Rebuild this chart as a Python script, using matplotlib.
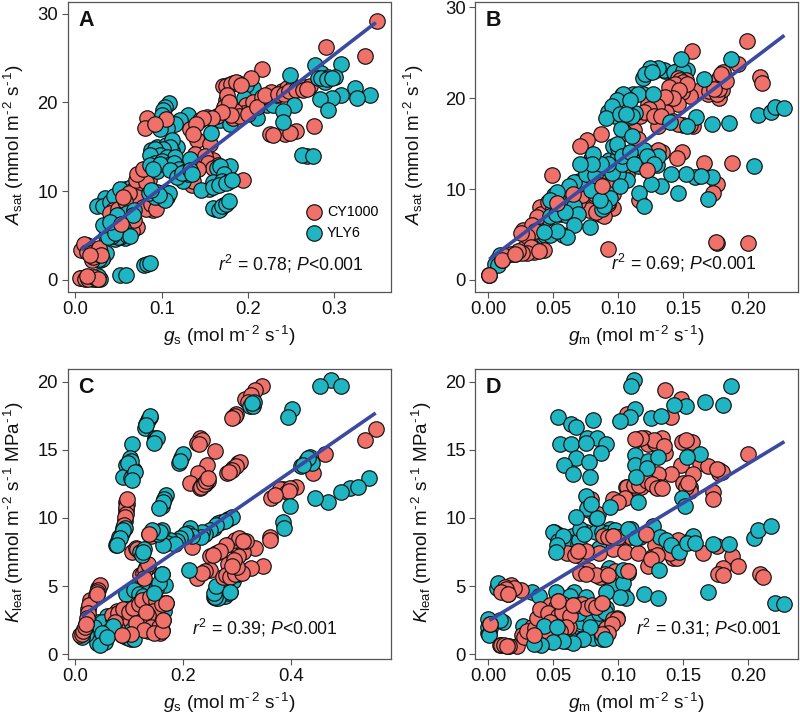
import numpy as np
import matplotlib
matplotlib.use("Agg")
import matplotlib.pyplot as plt

plt.rcParams['font.family'] = ['Liberation Sans', 'DejaVu Sans']
plt.rcParams['mathtext.fontset'] = 'custom'
plt.rcParams['mathtext.rm'] = 'Liberation Sans'
plt.rcParams['mathtext.it'] = 'Liberation Sans:italic'
plt.rcParams['mathtext.bf'] = 'Liberation Sans:bold'
plt.rcParams['mathtext.default'] = 'regular'

RED = '#F0706A'
TEAL = '#20B5C2'
LINE = '#3A4AA0'
FRAME = '#555555'
SERIES_NAMES = ['CY1000', 'YLY6']

# ---------- Panel A (gs, Asat) ----------
A_YLY_BACK = [(.206,21.6),(.198,22.0),(.195,20.5),(.222,19.7),(.229,19.7),(.210,18.2),(.168,18.0),(.179,17.6),
 (.131,18.6),(.121,18.0),(.115,17.6),(.108,19.9),(.104,19.5),(.102,19.2),(.100,18.6),(.106,17.1),(.098,17.0),(.032,2.6),(.029,2.2),(.036,3.0),
 (.025,.1),(.007,.2),(.016,.3),(.034,9.2),(.025,8.3),(.032,8.3),(.058,10.3),(.048,9.6),(.036,4.9),(.046,4.6),(.058,4.7),(.065,5.4),(.052,4.8),
 (.028,3.0),(.031,2.4),(.028,2.4),(.024,.1),(.020,.1),(.029,.1),(.026,.4),(.040,8.8),(.045,9.5),(.060,10.0),(.065,10.5),(.052,10.3)]
A_CY = [(.349,29.2),(.290,26.2),(.336,25.2),(.216,23.8),(.203,22.8),(.188,22.2),(.183,22.2),(.177,22.0),(.171,21.8),
 (.175,20.3),(.177,19.9),(.172,19.5),(.176,19.2),(.198,19.7),(.206,20.1),(.216,20.6),(.227,21.2),(.233,20.8),(.239,21.3),(.245,21.6),
 (.252,21.8),(.260,21.6),(.266,21.7),(.272,21.9),(.195,18.8),(.183,18.2),(.164,18.5),(.144,18.0),(.152,18.4),(.105,18.1),(.083,18.2),
 (.081,17.1),(.092,17.6),(.276,17.3),(.256,16.8),(.243,16.5),(.249,16.6),(.225,16.5),(.229,16.3),(.133,17.0),(.141,15.8),(.156,15.3),
 (.144,13.9),(.146,13.3),(.160,13.5),(.135,10.7),(.194,11.3),(.158,12.8),(.075,11.5),(.083,12.0),(.085,11.3),(.067,10.1),(.075,10.1),
 (.059,9.4),(.067,9.4),(.079,9.0),(.085,8.4),(.090,7.9),(.056,8.6),(.044,7.9),(.063,7.5),(.056,6.0),(.071,6.0),(.048,7.1),(.040,7.5),
 (.013,3.9),(.017,3.6),(.023,3.0),(.019,2.3),(.029,3.2),(.007,3.4),(.012,.3),(.020,.2),(.009,.2),
 (.010,4.0),(.014,3.2),(.018,3.0),(.021,2.6),(.026,2.9),(.027,3.6),(.030,2.8),(.005,.2),(.011,.1),(.015,.1),(.022,.3),(.026,.1),
 (.050,8.0),(.055,7.6),(.060,7.0),(.065,8.5),(.070,9.8),(.072,9.3),(.078,8.2),(.082,8.0),(.088,8.6),(.093,8.0),(.062,9.8),(.058,8.9),
 (.055,9.3),(.070,11.3),(.079,11.8),(.082,11.0),(.072,11.9),(.078,12.5),(.050,6.5),(.060,6.0),(.066,5.5),(.055,5.2),(.068,6.8),
 (.185,19.0),(.190,18.5),(.200,18.7),(.210,19.5),(.220,20.8),(.235,21.0),(.242,21.0),(.248,21.3),(.255,21.4),(.264,21.4),(.268,21.5),
 (.174,21.9),(.180,22.1),(.186,22.3),(.192,22.0),(.176,20.8),(.178,20.0),(.180,18.6),(.170,18.9),(.158,18.2),(.148,18.2),(.140,17.6),
 (.136,16.5),(.139,14.2),(.150,14.0),(.154,13.2),(.165,13.0),(.168,12.5),(.160,12.6),(.142,12.5),(.131,11.5),(.136,11.2)]
A_YLY_FRONT = [(.308,24.3),(.278,24.2),(.249,23.1),(.285,23.3),(.293,22.9),(.301,22.9),(.281,22.7),(.289,22.3),
 (.285,22.7),(.291,22.6),(.297,22.7),
 (.324,21.6),(.341,20.8),(.308,20.8),(.326,20.5),(.297,20.5),(.283,20.4),(.293,19.2),(.253,19.7),(.241,19.0),(.241,17.8),(.157,16.6),
 (.118,15.0),(.112,14.5),(.095,15.0),(.105,15.2),(.088,14.6),
 (.112,15.8),(.110,15.0),(.102,14.7),(.092,14.7),(.098,14.1),(.087,14.1),(.106,13.9),(.115,13.9),(.092,13.2),(.100,13.4),(.107,12.9),(.114,13.2),
 (.120,12.5),(.127,11.7),(.128,12.3),(.125,11.2),(.130,11.9),(.086,12.9),(.095,12.3),
 (.098,13.1),(.090,12.5),(.110,12.4),
 (.118,11.6),(.124,12.0),(.133,13.6),(.133,12.4),(.135,11.9),(.164,12.6),(.179,12.8),(.168,12.8),(.172,11.9),
 (.155,10.3),(.160,11.0),(.170,11.2),(.177,11.0),
 (.146,10.1),(.160,10.5),(.166,10.7),(.175,10.9),(.181,11.3),(.162,8.0),(.168,8.0),(.172,8.4),(.160,8.1),(.166,7.9),(.170,8.3),(.175,8.6),(.178,8.9),
 (.268,14.0),(.263,14.1),(.275,14.0),(.095,9.9),(.100,9.2),(.106,9.4),(.104,9.9),(.092,9.4),(.085,9.8),
 (.108,9.8),(.104,9.0),(.097,9.6),(.088,10.1),
 (.055,5.8),(.050,4.8),(.060,5.1),(.063,4.9),(.042,5.0),(.038,4.8),(.045,6.5),(.052,7.0),(.060,7.6),(.068,7.9),
 (.048,7.3),(.067,7.3),(.032,6.2),(.046,5.3),(.040,6.5),
 (.052,.6),(.059,.6),(.079,1.7),(.083,1.8),(.086,1.9)]
A_CY_FRONT = [(.013,.4),(.017,2.8),(.053,6.3)]

# ---------- Panel B (gm, Asat) ----------
B_YLY_BACK = [(.0067,2.2),(.0095,2.8),(.001,.5),(.080,13.5),(.070,10.9),(.075,11.5),(.085,10.3),(.090,11.2),(.060,9.5),
 (.153,23.1),(.145,23.0),(.136,23.0),(.1115,20.5),(.119,20.5),(.058,5.0),(.042,4.8),(.045,6.8),(.005,1.8),(.008,1.7),
 (.135,23.1),(.128,23.0),(.143,22.9),(.150,23.0),(.119,22.2),(.044,5.0),(.048,4.9)]
B_CY = [(.1995,26.3),(.157,25.2),(.1925,23.8),(.209,22.3),(.211,21.7),(.1805,22.9),(.178,22.2),(.181,22.0),(.178,20.0),(.180,20.9),
 (.169,20.5),(.163,20.9),(.155,20.2),(.152,22.0),(.146,22.2),(.141,21.3),(.149,20.7),(.143,21.1),(.139,19.8),(.146,19.3),(.137,18.5),
 (.126,18.2),(.131,16.9),(.117,18.0),(.123,19.4),(.150,17.0),(.158,16.9),(.087,16.0),(.0765,15.4),(.071,14.7),(.112,16.5),(.1495,14.1),
 (.145,13.4),(.166,12.9),(.1875,12.9),(.134,14.1),(.114,13.9),(.122,12.1),(.107,11.7),(.096,11.9),(.098,11.0),(.089,10.3),(.096,9.5),
 (.176,10.6),(.173,9.6),(.116,8.8),(.0495,11.5),(.067,10.1),(.064,9.6),(.053,8.5),(.055,9.2),(.045,8.3),(.043,7.7),(.048,8.0),(.076,8.8),
 (.081,8.6),(.073,8.1),(.086,7.3),(.096,7.9),(.089,7.0),(.036,6.2),(.027,5.5),(.032,5.1),(.043,3.3),(.035,3.1),(.028,3.5),(.021,2.9),
 (.0105,2.2),(.001,.55),(.0925,3.4),(.176,4.1),(.175,4.2),(.200,4.1),
 (.148,22.0),(.150,21.8),(.144,21.6),(.139,21.2),(.153,21.5),(.147,20.9),(.142,20.0),(.136,20.1),(.130,19.1),(.124,18.8),(.120,18.5),
 (.128,18.0),(.133,18.0),(.142,17.5),(.146,17.2),(.155,17.0),(.170,20.8),(.176,20.4),(.178,21.0),(.183,21.9),(.179,22.6),(.174,21.0),
 (.115,15.5),(.105,16.2),(.127,14.0),(.131,14.3),(.118,14.2),(.110,13.0),(.115,12.6),(.103,12.0),(.100,11.8),(.090,11.2),(.085,11.0),
 (.092,10.4),(.079,10.0),(.085,9.5),(.092,8.4),(.078,7.7),(.069,8.6),(.060,8.3),(.062,9.8),(.068,9.0),(.072,9.3),(.040,8.0),(.041,7.2),
 (.038,6.9),(.034,6.0),(.036,5.4),(.030,4.8),(.033,3.6),(.030,3.0),(.026,3.0),(.023,3.2),(.039,3.2),(.018,2.9),(.013,2.6),(.025,5.2),
 (.046,8.6),(.058,9.0),(.050,7.9),(.083,7.5),(.090,8.9),(.082,9.5)]
B_YLY_FRONT = [(.187,24.3),(.1485,24.3),(.131,23.3),(.1245,23.3),(.121,22.6),(.126,22.9),(.166,22.1),
 (.115,20.5),(.103,20.3),(.107,20.0),(.098,18.0),(.103,18.1),(.109,17.9),(.113,18.4),(.092,18.5),
 (.104,20.4),(.099,19.8),(.109,19.8),(.127,20.4),(.095,19.1),(.091,17.8),(.1015,18.3),(.1105,18.0),(.106,18.2),(.102,16.6),(.111,15.8),
 (.140,17.4),(.160,17.9),(.153,16.9),(.172,17.2),(.1855,17.3),(.208,18.1),(.218,18.5),(.221,19.0),(.228,18.9),(.205,12.5),(.1725,11.3),
 (.159,11.3),(.164,11.4),(.152,11.6),(.141,11.6),(.169,8.9),(.146,9.6),(.133,10.3),(.125,10.5),(.130,12.6),(.131,13.6),(.120,14.3),
 (.116,9.6),(.120,8.1),(.093,13.2),(.090,12.4),(.079,13.3),(.083,12.5),(.074,12.6),(.077,12.2),(.100,13.7),(.096,14.7),(.104,14.0),
 (.108,13.5),(.115,12.5),(.122,13.6),(.128,12.8),(.107,11.0),(.100,11.6),(.095,11.8),(.070,10.5),(.066,10.8),(.062,10.3),(.075,11.6),
 (.082,11.5),(.085,10.4),(.090,9.7),(.092,8.6),(.088,7.8),(.093,9.4),(.079,9.9),
 (.1015,10.3),(.103,12.8),(.0925,12.7),(.087,12.8),(.081,13.9),(.080,12.8),(.071,12.8),(.100,14.5),(.099,15.0),
 (.103,13.6),(.109,14.1),(.112,12.8),(.094,9.0),(.089,8.1),(.086,8.8),(.051,9.3),(.056,8.5),(.055,7.3),(.048,7.0),(.060,7.1),(.065,7.4),
 (.068,7.5),(.063,8.4),(.053,9.7),(.048,8.8),(.052,7.3),(.066,8.1),(.069,7.3),(.059,7.5),
 (.066,6.0),(.0785,5.8),(.0605,4.7),(.053,5.4),(.043,5.3)]
B_CY_FRONT = [(.053,8.5),(.065,9.5),(.088,10.3),(.122,12.1),(.0105,2.2),(.021,2.9),(.001,.55)]

# ---------- Panel C (gs, Kleaf) ----------
C_YLY_BACK = [(.287,4.6),(.274,4.3),(.262,4.1),(.268,4.9),(.257,4.2),(.292,5.4),(.302,5.9),(.161,5.9),(.166,5.1),(.146,4.5),(.129,4.8),
 (.094,4.4),(.108,4.7),(.104,1.15),(.120,2.25),(.151,1.76),(.142,2.9),(.043,2.4),(.058,2.8),(.012,1.4),(.015,1.6),(.105,2.7),(.125,3.0),
 (.167,3.8),(.155,3.0),(.268,4.3),(.272,4.3),(.278,4.3),(.283,4.5),(.264,4.1),(.260,4.2),(.258,4.5),(.262,5.0),
 (.050,2.4),(.045,1.0),(.050,.9),(.055,.9),(.060,1.5),(.052,1.3),(.040,.8),(.035,2.0),(.020,1.5),(.018,1.9),(.013,1.3),(.065,1.8),(.073,1.9),
 (.095,1.3),(.100,1.2),(.108,1.1),(.110,3.0),(.130,3.9),(.140,4.3),(.150,4.8),(.155,5.2),(.118,4.4),(.125,4.3),(.100,2.3),(.115,2.4),(.135,1.7),
 (.160,1.8),(.165,3.2)]
C_CY = [(.346,19.7),(.333,19.4),(.315,18.75),(.299,17.6),(.293,17.4),(.231,15.9),(.225,15.5),(.259,14.9),(.244,13.9),(.228,13.3),
 (.213,12.6),(.247,12.7),(.240,12.5),(.231,12.2),(.236,12.4),(.302,14.0),(.293,13.7),(.281,13.3),(.559,16.5),(.537,15.7),(.463,14.7),
 (.441,13.3),(.409,12.3),(.386,12.1),(.364,11.5),(.361,8.6),(.361,8.4),(.349,6.5),(.327,6.3),(.333,7.8),(.312,7.5),(.302,7.2),(.309,8.4),
 (.299,8.3),(.287,8.1),(.284,6.6),(.262,7.4),(.250,7.2),(.250,6.2),(.225,5.6),(.216,7.9),(.305,6.0),(.293,5.9),(.274,5.7),(.095,11.2),
 (.095,10.6),(.092,9.8),(.089,9.3),(.108,7.6),(.137,8.8),(.132,6.4),(.120,5.8),(.043,4.9),(.040,4.45),(.024,3.3),(.027,4.0),(.020,2.2),
 (.009,1.4),(.169,3.8),(.132,3.1),(.163,2.5),(.148,2.4),(.157,1.6),(.123,2.0),(.086,1.4),(.095,3.35),(.114,3.7),(.077,3.2),(.070,2.6),
 (.129,4.0),(.151,3.5),(.068,2.9),(.085,2.6),
 (.096,11.0),(.095,10.8),(.094,10.3),(.093,10.1),(.090,9.5),(.0955,11.4),(.045,5.1),(.042,4.7),(.041,4.6),(.038,4.3),(.025,3.6),(.023,3.0),
 (.022,2.7),(.012,1.5),(.015,1.7),(.018,2.0),(.235,15.7),(.229,15.4),(.233,12.3),(.238,12.5),(.243,12.7),(.246,12.9),(.305,14.1),(.298,13.8),
 (.290,13.5),(.286,13.4),(.327,19.0),(.320,18.5),(.297,17.5),(.290,17.3),(.105,7.5),(.112,7.8),(.115,7.7),(.135,6.4),(.125,6.0),(.130,6.2),
 (.127,5.6),(.135,6.6),(.140,8.7),(.143,8.9),(.296,8.4),(.303,8.5),(.316,8.3),(.312,8.3),(.280,8.0),(.268,7.6),(.255,7.3),(.240,6.1),(.235,6.0),
 (.280,5.8),(.287,5.7),(.297,5.9),(.310,6.0),(.300,6.4),(.295,6.9),(.290,6.5),(.380,12.1),(.392,11.9),(.398,12.2),(.396,12.0),(.370,11.7),
 (.080,3.0),(.088,3.3),(.100,3.1),(.107,3.4),(.118,3.7),(.123,4.0),(.138,4.2),(.150,3.9),(.145,3.2),(.135,2.9),(.125,2.5),(.113,2.3),(.140,2.0),
 (.128,1.8),(.155,2.0),(.146,1.6),(.160,1.7),(.077,1.9),(.070,1.7),(.073,2.4),(.160,3.7),(.103,1.5)]
C_YLY_FRONT = [(.474,20.1),(.454,19.7),(.494,19.7),(.325,18.2),(.330,18.2),(.332,18.5),(.328,18.4),(.402,18.0),(.394,17.4),
 (.138,17.4),(.135,17.2),(.132,16.9),(.130,16.6),(.138,17.5),(.132,16.8),(.148,15.9),(.148,15.7),(.151,15.9),(.146,15.5),
 (.106,15.4),(.101,14.4),(.095,13.9),(.089,13.0),(.109,13.5),(.107,13.2),(.104,12.9),(.103,14.2),(.098,14.0),(.111,13.4),(.106,12.8),
 (.197,14.4),(.192,14.0),(.200,14.7),(.194,14.2),(.169,11.7),(.165,11.4),(.160,10.9),(.163,11.2),(.156,10.7),
 (.428,14.2),(.436,14.5),(.440,14.0),(.418,13.8),(.432,14.4),(.423,13.9),(.546,12.9),(.510,12.2),(.525,12.3),(.494,11.9),(.469,11.2),(.444,11.5),
 (.398,10.9),(.386,9.7),(.387,9.3),(.283,9.9),(.270,9.7),(.265,9.6),(.258,9.3),(.290,10.1),
 (.277,9.8),(.262,9.5),(.250,9.1),(.240,8.8),(.235,9.0),(.234,8.6),(.213,9.3),(.210,8.9),(.216,8.7),(.205,8.7),(.198,8.6),(.203,8.8),(.194,8.5),
 (.188,8.3),(.175,8.4),(.170,8.2),(.185,8.1),(.163,8.0),(.145,9.0),(.153,8.8),(.160,9.1),(.157,9.0),(.142,9.1),(.075,8.0),(.078,8.2),(.080,8.3),
 (.082,8.6),(.086,8.9),(.092,9.3),(.089,9.1),(.083,8.5),(.077,8.0),(.120,7.5),(.128,7.7),(.123,7.3),(.126,7.5),(.211,6.2),
 (.070,2.1),(.049,1.6),(.046,.66),(.058,1.3),(.161,5.9),(.146,4.5),(.287,4.6)]
C_CY_FRONT = [(.137,8.8),(.040,4.45),(.020,2.2),(.086,1.4),(.163,2.5),(.169,3.8),(.132,3.1)]

# ---------- Panel D (gm, Kleaf) ----------
D_YLY_BACK = [(.0003,2.6),(.0118,2.4),(.0003,1.6),(.0015,1.9),(.0067,4.9),(.008,5.2),(.034,4.6),(.039,4.25),(.053,4.45),(.066,4.6),
 (.029,1.6),(.0272,2.1),(.0685,2.5),(.085,2.6),(.086,1.3),(.0955,2.3),(.075,4.2),(.091,3.4),(.051,9.0),(.053,8.85),(.0645,8.7),(.094,9.2),
 (.085,7.8),(.0925,6.2),(.061,8.3),(.069,8.1),(.110,12.3),(.106,12.3),
 (.052,8.8),(.050,9.0),(.054,8.3),(.058,8.7),(.070,8.4),(.075,9.0),(.083,9.0),(.088,9.0),(.092,8.9),(.098,9.1),(.071,9.2),(.110,9.2),(.117,8.6),
 (.108,6.0),(.100,5.9),(.103,4.6),(.095,5.0),(.093,6.3),(.0003,2.0),(.0005,1.5),(.0008,1.4),(.009,2.5),(.040,2.0),(.060,1.0),(.068,1.2),(.072,1.1),
 (.062,1.2),(.055,1.3),(.060,2.4),(.072,2.4),(.078,2.8),(.085,3.0),(.090,3.1),(.070,3.0),(.037,.9),(.047,1.0),(.081,1.2),(.087,1.6),(.088,1.1),
 (.052,4.6),(.063,4.3),(.148,8.0),(.145,7.9),(.155,8.4),(.158,8.7)]
D_CY = [(.1365,19.4),(.1485,18.7),(.141,17.4),(.107,17.65),(.1155,15.8),(.121,15.9),(.123,15.4),(.1285,15.5),(.1335,15.9),(.136,14.8),
 (.1495,15.6),(.157,15.6),(.200,14.7),(.1485,13.9),(.163,14.0),(.1695,13.8),(.178,13.5),(.1775,13.3),(.1575,13.25),(.1405,13.25),
 (.131,13.25),(.1235,12.6),(.150,12.6),(.1555,12.3),(.1555,12.0),(.173,11.9),(.173,11.4),(.132,12.3),(.129,12.3),(.118,12.3),(.112,12.3),
 (.107,12.3),(.1055,11.5),(.0965,11.4),(.0845,10.3),(.0887,8.7),(.0964,8.7),(.104,8.7),(.1215,8.85),(.0964,7.75),(.1054,7.5),(.1156,7.45),
 (.0695,7.55),(.077,7.4),(.0605,7.45),(.071,7.2),(.1285,8.0),(.126,7.15),(.123,6.5),(.1425,7.1),(.145,7.05),(.1465,8.4),(.1655,7.4),(.176,7.95),
 (.1875,7.2),(.1925,6.5),(.181,6.3),(.177,5.9),(.1805,5.8),(.209,5.9),(.2115,5.7),(.108,6.1),(.0925,5.8),(.086,5.7),(.077,6.2),(.071,6.0),
 (.018,5.05),(.013,4.95),(.015,4.45),(.025,4.7),(.0015,2.2),(.0092,.66),(.0144,.6),(.022,.6),(.026,1.4),(.035,1.4),(.0335,2.0),(.040,2.5),
 (.045,3.35),(.050,3.2),(.054,3.9),(.0605,3.0),(.0655,3.65),(.076,3.5),(.088,3.75),(.099,2.7),(.062,2.0),(.091,1.9),(.048,3.6),(.058,3.7),
 (.033,1.3),(.028,1.3),(.030,1.7),(.036,1.9),(.038,2.7),(.040,3.3),(.052,3.5),(.046,3.0),(.054,2.8),(.057,3.1),(.063,2.8),(.069,3.6),(.072,3.7),
 (.075,3.4),(.080,3.6),(.083,3.5),(.096,2.6),(.099,2.6),(.095,2.2),(.092,1.6),(.088,1.5),(.060,2.0),(.055,1.7),(.045,1.7),(.048,2.4),(.010,.65),
 (.012,.7),(.016,.6),(.020,4.9),(.014,4.8),(.010,4.6),(.112,12.4),(.116,12.4),(.122,12.7),(.126,12.5),(.130,12.2),(.134,12.2),(.152,12.3),(.154,12.6),
 (.079,11.4),(.083,10.0),(.078,10.6),(.085,7.4),(.067,7.3),(.075,7.6),(.110,8.6),(.100,8.6),(.092,8.6),(.140,7.4),(.130,7.3),(.125,7.0),(.180,13.4),
 (.176,13.6),(.128,15.7),(.118,15.9),(.113,15.8),(.135,15.3),(.152,15.7),(.100,11.2),(.098,6.1),(.090,5.9),(.083,5.8),(.075,5.9)]
D_YLY_FRONT = [(.112,20.1),(.110,19.7),(.187,19.7),(.167,18.5),(.181,18.3),(.152,18.2),(.143,18.3),(.113,18.0),(.109,17.4),(.1015,17.1),
 (.125,17.3),(.133,17.5),(.054,17.4),(.064,16.9),(.068,16.7),(.0805,17.2),(.055,15.4),(.064,15.4),(.076,15.9),(.0835,15.9),(.075,15.5),
 (.091,15.4),(.087,14.8),(.068,14.4),(.0775,14.1),(.0585,13.9),(.0655,13.2),(.0785,13.0),(.113,14.6),(.113,13.9),(.123,14.2),(.1225,13.7),
 (.131,14.5),(.163,14.7),(.153,14.5),(.114,13.0),(.1155,11.2),(.149,11.5),(.1515,10.9),(.094,10.8),(.0755,11.6),(.076,10.7),(.0675,10.1),
 (.0835,10.0),(.0795,11.0),(.0735,8.8),(.108,9.2),(.127,9.4),(.114,8.5),(.132,8.6),(.137,8.4),(.1405,8.0),(.147,7.5),(.153,8.2),(.159,8.2),
 (.173,8.1),(.1855,8.1),(.205,8.5),(.208,9.1),(.2175,9.4),(.053,8.0),(.052,7.5),(.1315,6.2),(.1695,4.6),(.2205,3.8),(.2275,3.7),(.120,4.4),
 (.1305,4.1),(.104,5.2),(.1065,4.1),(.1015,4.2),(.091,4.6),(.104,6.2),(.043,2.1),(.053,2.0),(.0785,2.0),(.090,1.1),(.0733,1.15),(.0655,.85),
 (.058,1.0),(.050,.9),(.041,.66),(.035,.78)]
D_CY_FRONT = [(.015,4.45),(.0015,2.2),(.0144,.6),(.035,1.4),(.054,3.9),(.0655,3.65),(.088,3.75),(.0964,8.7),(.1215,8.85),(.0925,5.8),(.108,6.1),(.0695,7.55)]

# ---------- Fit lines: x ends, y ends ----------
FIT_A = ([.0066,.348],[3.4,29.0])
FIT_B = ([.001,.228],[2.27,26.9])
FIT_C = ([.0117,.5575],[2.79,17.7])
FIT_D = ([.001,.228],[2.49,15.6])

GS_TICKS_A = [0.0,0.1,0.2,0.3]
GS_TICKS_C = [0.0,0.2,0.4]
GM_TICKS = [0.0,0.05,0.10,0.15,0.20]
ASAT_TICKS = [0,10,20,30]
KLEAF_TICKS = [0,5,10,15,20]

W, H = 800, 714
fig = plt.figure(figsize=(W/100, H/100), dpi=100)

H1 = '\u2010'
XL_S = f'$\\mathit{{g}}_{{s}}$ (mol m$^{{{H1}\\,2}}$ s$^{{{H1}\\,1}}$)'
XL_M = f'$\\mathit{{g}}_{{m}}$ (mol m$^{{{H1}\\,2}}$ s$^{{{H1}\\,1}}$)'
YL_A = f'$\\mathit{{A}}_{{sat}}$ (mmol m$^{{{H1}\\,2}}$ s$^{{{H1}\\,1}}$)'
YL_K = f'$\\mathit{{K}}_{{leaf}}$ (mmol m$^{{{H1}\\,2}}$ s$^{{{H1}\\,1}}$ MPa$^{{{H1}\\,1}}$)'

panels = [
 dict(box=(67.5,1.7,390.5,291.7), xlim=(-.009,.365), ylim=(-1.32,31.35), letter='A',
      layers=(A_YLY_BACK,A_CY,A_YLY_FRONT,A_CY_FRONT), fit=FIT_A, xt=GS_TICKS_A, xtl=['0.0','0.1','0.2','0.3'],
      yt=ASAT_TICKS, xl=XL_S, yl=YL_A, ylx=14, stat=('0.78',.1656,1.1)),
 dict(box=(475.3,1.7,798.3,291.7), xlim=(-.0098,.2387), ylim=(-1.29,30.6), letter='B',
      layers=(B_YLY_BACK,B_CY,B_YLY_FRONT,B_CY_FRONT), fit=FIT_B, xt=GM_TICKS, xtl=['0.00','0.05','0.10','0.15','0.20'],
      yt=ASAT_TICKS, xl=XL_M, yl=YL_A, ylx=414, stat=('0.69',.0944,1.17)),
 dict(box=(67.5,368.7,390.5,658.7), xlim=(-.0145,.585), ylim=(-.32,20.95), letter='C',
      layers=(C_YLY_BACK,C_CY,C_YLY_FRONT,C_CY_FRONT), fit=FIT_C, xt=GS_TICKS_C, xtl=['0.0','0.2','0.4'],
      yt=KLEAF_TICKS, xl=XL_S, yl=YL_K, ylx=14, stat=('0.39',.216,1.47)),
 dict(box=(475.3,368.7,798.3,658.7), xlim=(-.0098,.2387), ylim=(-.32,20.95), letter='D',
      layers=(D_YLY_BACK,D_CY,D_YLY_FRONT,D_CY_FRONT), fit=FIT_D, xt=GM_TICKS, xtl=['0.00','0.05','0.10','0.15','0.20'],
      yt=KLEAF_TICKS, xl=XL_M, yl=YL_K, ylx=422, stat=('0.31',.114,1.47)),
]

MS = 124
for p in panels:
    l,t,r,b = p['box']
    ax = fig.add_axes([l/W, 1-b/H, (r-l)/W, (b-t)/H])
    ax.set_xlim(*p['xlim']); ax.set_ylim(*p['ylim'])
    for pts,c in zip(p['layers'],[TEAL,RED,TEAL,RED]):
        a = np.array(pts)
        ax.scatter(a[:,0],a[:,1],s=MS,c=c,edgecolors='#111111',linewidths=0.85,zorder=2,clip_on=False)
    ax.plot(p['fit'][0],p['fit'][1],color=LINE,lw=2.6,zorder=3,solid_capstyle='butt')
    ax.set_xticks(p['xt']); ax.set_xticklabels(p['xtl'])
    ax.set_yticks(p['yt'])
    ax.tick_params(labelsize=13.3,length=4.3,width=0.8,color=FRAME,pad=2.5,labelcolor='#111111')
    for s in ax.spines.values():
        s.set_color(FRAME); s.set_linewidth(0.9)
    ax.text(10.5/(r-l),1-(24.5/(b-t)),p['letter'],transform=ax.transAxes,fontsize=15.5,fontweight='bold',va='baseline',color='#111111',zorder=5)
    fig.text((l+r)/2/W,1-(b+50)/H,p['xl'],ha='center',va='baseline',fontsize=13.8,color='#111111')
    fig.text(p['ylx']/W,1-((t+b)/2-2)/H,p['yl'],ha='center',va='center',rotation=90,fontsize=13.6,color='#111111')
    v,x0,y0 = p['stat']
    ax.text(x0,y0,f'$\\mathit{{r}}^{{2}}$ = {v}; $\\mathit{{P}}$<0.001',fontsize=12.7,va='baseline',zorder=5,color='#111111')
    if p['letter']=='A':
        hs=[ax.scatter([],[],s=MS,c=c,edgecolors='#111111',linewidths=0.85) for c in (RED,TEAL)]
        ax.legend(hs,SERIES_NAMES,frameon=False,loc='center left',bbox_to_anchor=(235/323,1-(222.5-1.7)/290),
                  fontsize=10.3,labelspacing=0.5,handletextpad=0.1,borderpad=0,borderaxespad=0,handlelength=1.6)

fig.savefig('out.png',dpi=100)
